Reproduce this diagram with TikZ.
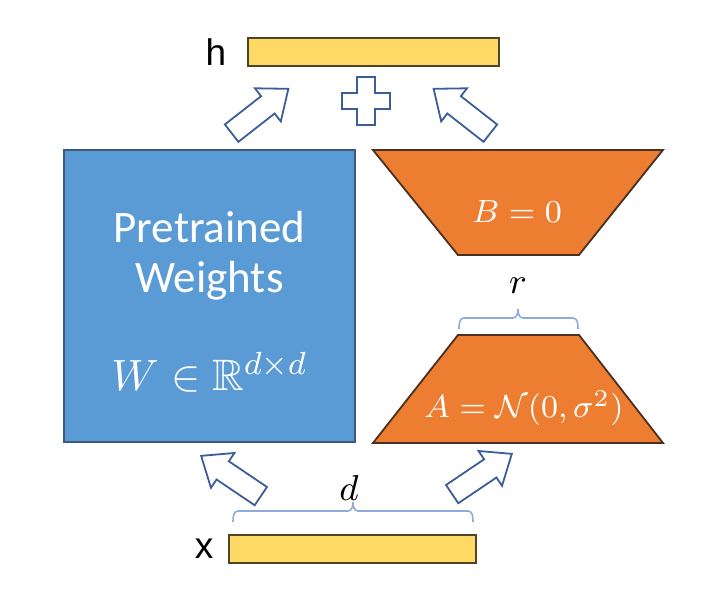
\documentclass[tikz,border=0pt]{standalone}
\usepackage{amsmath,amssymb}
\usepackage{fontspec}
\setsansfont{Carlito}
\newfontfamily\barfont{Liberation Sans}
\usepackage{tikz}
\usetikzlibrary{positioning}

\definecolor{wblue}{HTML}{5B9BD5}
\definecolor{wblueline}{HTML}{3A5A80}
\definecolor{lorange}{HTML}{ED7D31}
\definecolor{lorangeline}{HTML}{4A3020}
\definecolor{vyellow}{HTML}{FFD966}
\definecolor{vyellowline}{HTML}{4D4525}
\definecolor{arrline}{HTML}{3B5E9A}
\definecolor{braceline}{HTML}{8FAADC}

% hollow block arrow: position, angle
\newcommand{\fatarrow}[2]{%
  \draw[fatarr, shift={#1}, rotate=#2]
    (-36,-11) -- (10,-11) -- (10,-21) -- (36,0) -- (10,21) -- (10,11) -- (-36,11) -- cycle;}

% flat brace: left x, middle x, right x, base y
\newcommand{\flatbrace}[4]{%
  \draw[dimbrace] (#1,#4) to[out=90,in=180] (#1+5,#4-11)
    -- (#2-5,#4-11) to[out=0,in=-90] (#2,#4-20)
    to[out=-90,in=180] (#2+5,#4-11) -- (#3-5,#4-11)
    to[out=0,in=90] (#3,#4);}

\begin{document}
\begin{tikzpicture}[
  x=0.25pt, y=-0.25pt,
  vecbar/.style={rectangle, draw=vyellowline, fill=vyellow, line width=0.45pt, minimum height=7pt, inner sep=0pt},
  barlabel/.style={font=\barfont\fontsize{9.25}{11}\selectfont, inner sep=1pt},
  wbox/.style={rectangle, draw=wblueline, fill=wblue, line width=0.45pt, minimum width=72.75pt, minimum height=73pt, inner sep=0pt},
  trap/.style={draw=lorangeline, fill=lorange, line width=0.45pt},
  fatarr/.style={draw=arrline, fill=white, line width=0.45pt, line join=miter},
  dimbrace/.style={draw=braceline, line width=0.4pt},
  mathlabel/.style={font=\fontsize{9}{11}\selectfont, inner sep=0pt}
]
  \useasboundingbox (0,0) rectangle (710,598);

  % input and output vectors
  \node[vecbar, minimum width=62.75pt] (hbar) at (373.5,52) {};
  \node[vecbar, minimum width=61.75pt] (xbar) at (352.5,549) {};
  \node[barlabel, left=4pt of hbar] (hlab) {h};
  \node[barlabel, left=2.5pt of xbar] (xlab) {x};

  % pretrained weights
  \node[wbox] (wmat) at (209.5,296) {};
  \node[font=\sffamily\fontsize{11.25}{12.5}\selectfont, text=white, align=center] (wtext) at (209.5,256) {Pretrained\\Weights};
  \node[font=\fontsize{11}{13}\selectfont, text=white] (wmath) at (209.5,372) {$W\in\mathbb{R}^{d\times d}$};

  % low-rank factors
  \draw[trap] (373,150) -- (663,150) -- (579,255) -- (458,255) -- cycle;
  \draw[trap] (458,335) -- (579,335) -- (663,443) -- (373,443) -- cycle;
  \node[font=\fontsize{8.5}{10}\selectfont, text=white] (btext) at (517,212) {$B=0$};
  \node[font=\fontsize{8.5}{10}\selectfont, text=white] (atext) at (524,408) {$A=\mathcal{N}(0,\sigma^2)$};

  % dimensions
  \flatbrace{459}{518}{578}{329}
  \flatbrace{233}{353}{473}{522}
  \node[mathlabel] (rlab) at (518,286) {$r$};
  \node[mathlabel] (dlab) at (349,488) {$d$};

  % plus sign
  \draw[fatarr, shift={(366,101)}]
    (-9,-24) -- (9,-24) -- (9,-8) -- (24,-8) -- (24,8) -- (9,8) -- (9,24)
    -- (-9,24) -- (-9,8) -- (-24,8) -- (-24,-8) -- (-9,-8) -- cycle;

  % flow arrows
  \fatarrow{(260,111)}{38}
  \fatarrow{(462,111)}{142}
  \fatarrow{(231,476)}{146}
  \fatarrow{(482,474)}{34}
\end{tikzpicture}
\end{document}
